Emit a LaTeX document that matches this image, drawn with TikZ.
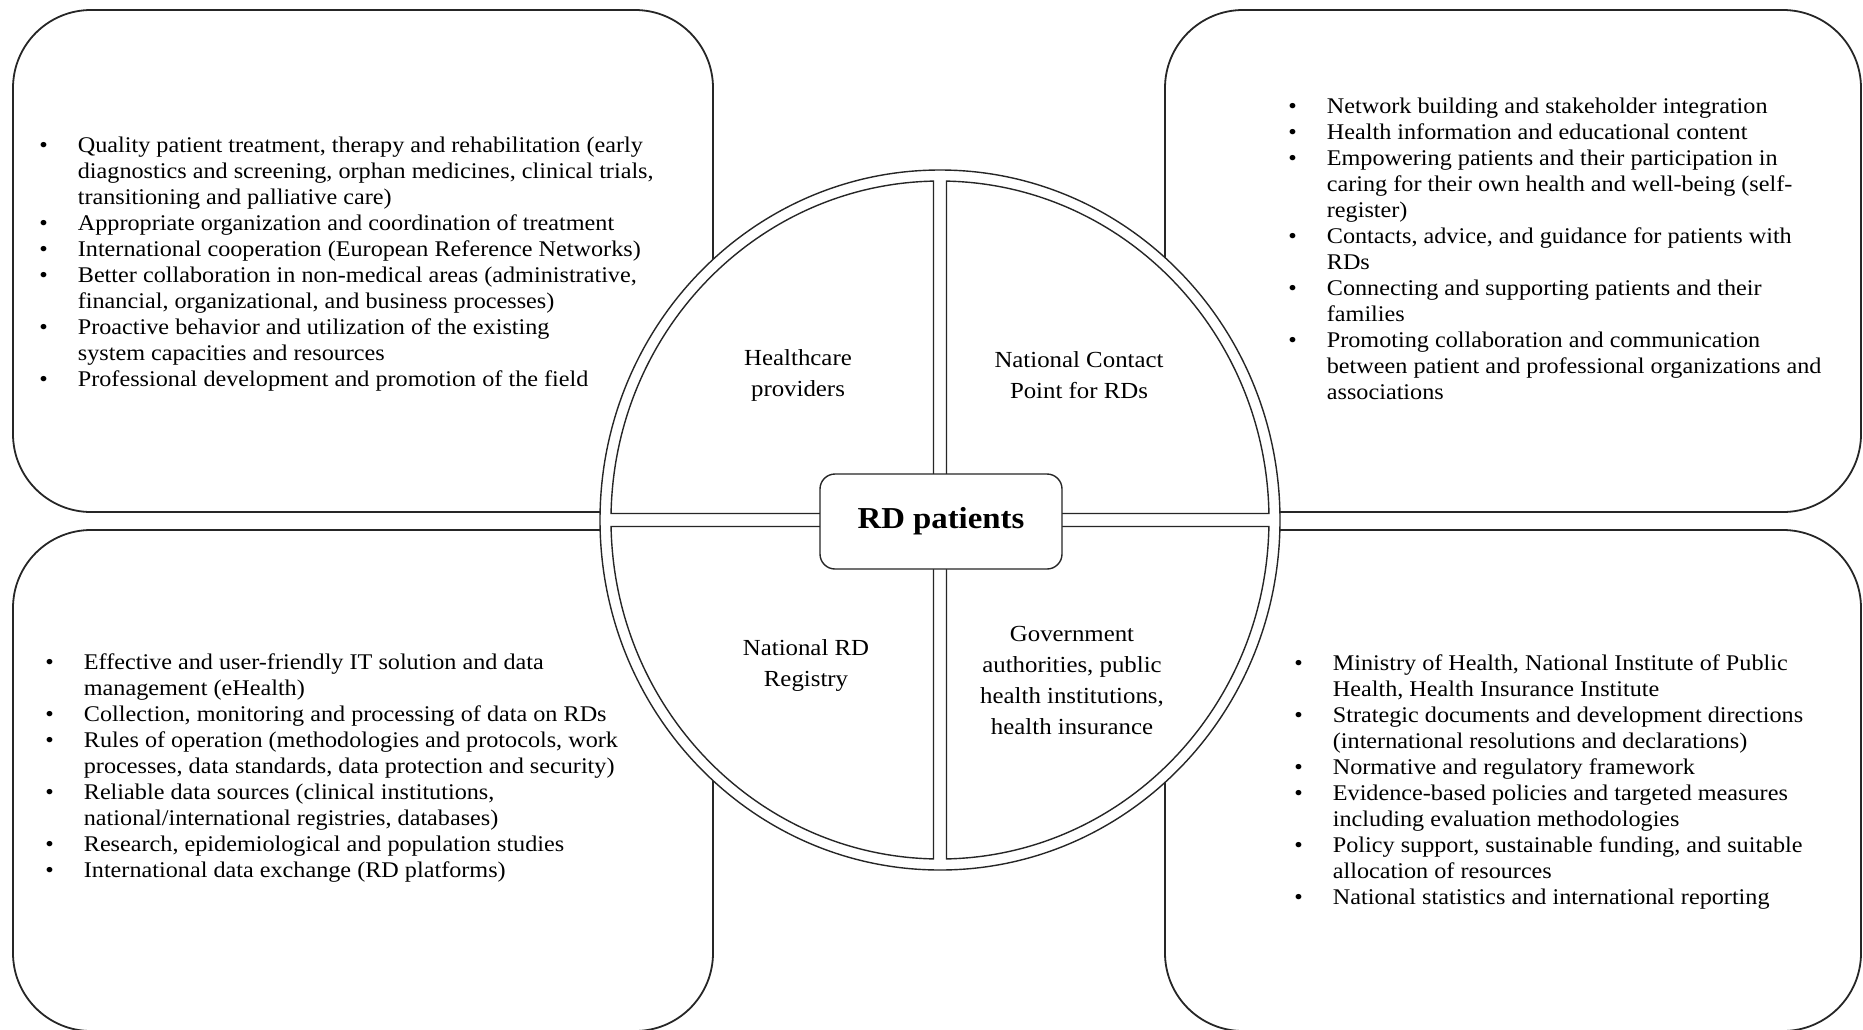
\documentclass[tikz,border=0pt]{standalone}
\usepackage{fontspec}
\setmainfont{Liberation Serif}[FakeStretch=1.08]
\usepackage{tikz}

\begin{document}
\begin{tikzpicture}[x=0.5pt, y=-0.5pt,
    panel/.style={draw=black!85, line width=0.9pt, rounded corners=39pt},
    sector/.style={draw=black!85, line width=0.7pt, fill=white},
    sectorlabel/.style={align=center, font=\fontsize{11.5}{15.5}\selectfont},
    bullets/.style={anchor=west, inner sep=0pt, font=\fontsize{11.2}{13}\selectfont}]
    \useasboundingbox (0,0) rectangle (1863,1029);
    \clip (0,0) rectangle (1863,1029);

    % Panels
    \draw[panel] (13,10) rectangle (713,512);
    \draw[panel] (1165,10) rectangle (1861,512);
    \draw[panel] (13,530) rectangle (713,1031);
    \draw[panel] (1165,530) rectangle (1861,1031);

    % Circle and its four sectors
    \draw[sector] (940,520) ellipse [x radius=340, y radius=350];
    \draw[sector] (933.5,181.1) arc[start angle=-91.13, end angle=-178.90, x radius=329, y radius=339] -- (933.5,513.5) -- cycle;
    \draw[sector] (946.5,181.1) arc[start angle=-88.87, end angle=-1.10, x radius=329, y radius=339] -- (946.5,513.5) -- cycle;
    \draw[sector] (1268.9,526.5) arc[start angle=1.10, end angle=88.87, x radius=329, y radius=339] -- (946.5,526.5) -- cycle;
    \draw[sector] (933.5,858.9) arc[start angle=91.13, end angle=178.90, x radius=329, y radius=339] -- (933.5,526.5) -- cycle;

    \node(100) at (941,521.5) [draw=black!85, line width=0.7pt, fill=white, rounded corners=7.5pt, minimum width=121pt, minimum height=47.5pt, font=\fontsize{15.2}{17}\selectfont\bfseries] {RD patients};

    \node(110) at (798,375) [sectorlabel] {Healthcare\\providers};
    \node(120) at (1079,375) [sectorlabel] {National Contact\\Point for RDs};
    \node(130) at (806,665) [sectorlabel] {National RD\\Registry};
    \node(140) at (1072,680) [sectorlabel] {Government\\authorities, public\\health institutions,\\health insurance};

    % Healthcare providers
    \node(111) at (39,264.5) [bullets] {\begin{tabular}{@{}l@{\hspace{15pt}}l@{}}
        \textbullet & Quality patient treatment, therapy and rehabilitation (early\\
        & diagnostics and screening, orphan medicines, clinical trials,\\
        & transitioning and palliative care)\\
        \textbullet & Appropriate organization and coordination of treatment\\
        \textbullet & International cooperation (European Reference Networks)\\
        \textbullet & Better collaboration in non-medical areas (administrative,\\
        & financial, organizational, and business processes)\\
        \textbullet & Proactive behavior and utilization of the existing\\
        & system capacities and resources\\
        \textbullet & Professional development and promotion of the field
    \end{tabular}};

    % National Contact Point
    \node(121) at (1288,251) [bullets] {\begin{tabular}{@{}l@{\hspace{15pt}}l@{}}
        \textbullet & Network building and stakeholder integration\\
        \textbullet & Health information and educational content\\
        \textbullet & Empowering patients and their participation in\\
        & caring for their own health and well-being (self-\\
        & register)\\
        \textbullet & Contacts, advice, and guidance for patients with\\
        & RDs\\
        \textbullet & Connecting and supporting patients and their\\
        & families\\
        \textbullet & Promoting collaboration and communication\\
        & between patient and professional organizations and\\
        & associations
    \end{tabular}};

    % National RD Registry
    \node(131) at (45,768) [bullets] {\begin{tabular}{@{}l@{\hspace{15pt}}l@{}}
        \textbullet & Effective and user-friendly IT solution and data\\
        & management (eHealth)\\
        \textbullet & Collection, monitoring and processing of data on RDs\\
        \textbullet & Rules of operation (methodologies and protocols, work\\
        & processes, data standards, data protection and security)\\
        \textbullet & Reliable data sources (clinical institutions,\\
        & national/international registries, databases)\\
        \textbullet & Research, epidemiological and population studies\\
        \textbullet & International data exchange (RD platforms)
    \end{tabular}};

    % Government authorities
    \node(141) at (1294,782) [bullets] {\begin{tabular}{@{}l@{\hspace{15pt}}l@{}}
        \textbullet & Ministry of Health, National Institute of Public\\
        & Health, Health Insurance Institute\\
        \textbullet & Strategic documents and development directions\\
        & (international resolutions and declarations)\\
        \textbullet & Normative and regulatory framework\\
        \textbullet & Evidence-based policies and targeted measures\\
        & including evaluation methodologies\\
        \textbullet & Policy support, sustainable funding, and suitable\\
        & allocation of resources\\
        \textbullet & National statistics and international reporting
    \end{tabular}};
\end{tikzpicture}
\end{document}
